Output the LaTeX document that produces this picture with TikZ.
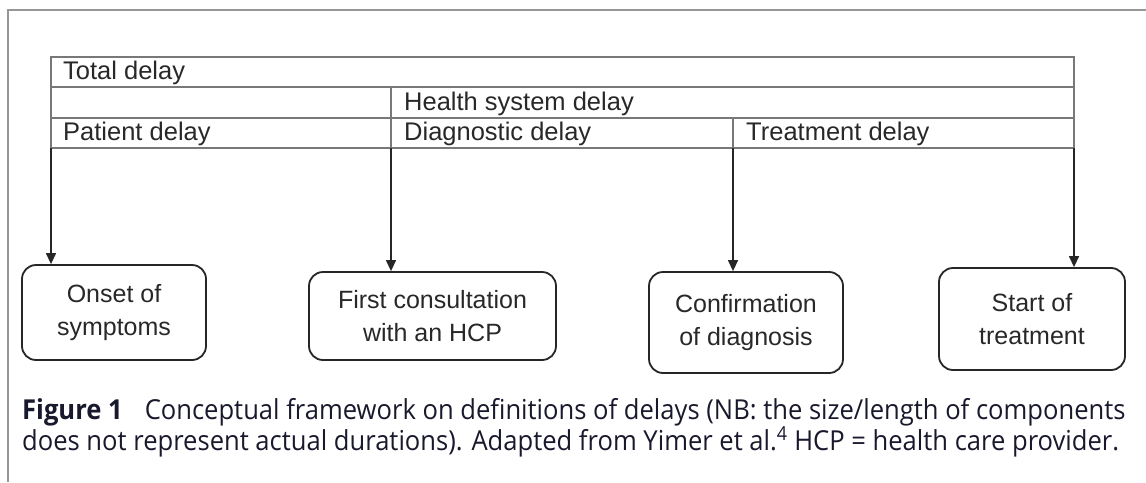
\documentclass[tikz,border=0pt]{standalone}
\usepackage{fontspec}
\setmainfont{Liberation Sans}
\newfontfamily\capfont[FakeStretch=0.93]{Open Sans}
\usetikzlibrary{arrows.meta}
\definecolor{tblgray}{RGB}{120,120,120}
\definecolor{framegray}{RGB}{150,150,150}
\definecolor{txt}{RGB}{40,40,40}
\definecolor{captxt}{RGB}{25,25,45}
\tikzset{
  tblline/.style={draw=tblgray, line width=1.6pt},
  rowlabel/.style={anchor=west, inner sep=0pt, text=txt, font=\fontsize{25.5}{30}\selectfont},
  event/.style={draw=black!85, line width=1.8pt, rounded corners=14pt, align=center,
    text=txt, font=\fontsize{25}{33}\selectfont, inner sep=0pt},
  arr/.style={draw=black!85, line width=1.3pt, -{Triangle[length=11pt,width=10pt]}},
  captext/.style={anchor=base west, inner sep=0pt, text=captxt, font=\capfont\fontsize{27.5}{32}\selectfont}
}
\begin{document}
\begin{tikzpicture}[x=1pt,y=-1pt]
\useasboundingbox (0,0) rectangle (1146,482);
% outer frame (top and left)
\draw[draw=framegray, line width=1.8pt] (1146,10) -- (8,10) -- (8,482);
% table
\draw[tblline] (51,57) rectangle (1074,148);
\draw[tblline] (51,87) -- (1074,87);
\draw[tblline] (51,118) -- (1074,118);
\draw[tblline] (391,87) -- (391,148);
\draw[tblline] (733,118) -- (733,148);
% row labels
\node[rowlabel] (total) at (63,73) {Total delay};
\node[rowlabel] (hsd) at (404,103.5) {Health system delay};
\node[rowlabel] (pd) at (63,134) {Patient delay};
\node[rowlabel] (dd) at (404,134) {Diagnostic delay};
\node[rowlabel] (td) at (746,134) {Treatment delay};
% arrow sources
\coordinate (s1) at (51,148);
\coordinate (s2) at (391,148);
\coordinate (s3) at (733,148);
\coordinate (s4) at (1074,148);
% events
\node[event, minimum width=184pt, minimum height=95pt] (onset) at (114,312.5) {Onset of\\symptoms};
\node[event, minimum width=247pt, minimum height=88pt] (first) at (432.5,316) {First consultation\\with an HCP};
\node[event, minimum width=194pt, minimum height=101pt] (confirm) at (746,322.5) {Confirmation\\of diagnosis};
\node[event, minimum width=186pt, minimum height=102pt] (start) at (1032,319) {Start of\\treatment};
% arrows
\draw[arr] (s1) -- (s1 |- onset.north);
\draw[arr] (s2) -- (s2 |- first.north);
\draw[arr] (s3) -- (s3 |- confirm.north);
\draw[arr] (s4) -- (s4 |- start.north);
% caption
\node[captext] (cap1) at (22,419) {\textbf{Figure 1}\hspace{22pt}Conceptual framework on definitions of delays (NB: the size/length of components};
\node[captext] (cap2) at (22,450) {does not represent actual durations). Adapted from Yimer et al.\textsuperscript{4} HCP = health care provider.};
\end{tikzpicture}
\end{document}
